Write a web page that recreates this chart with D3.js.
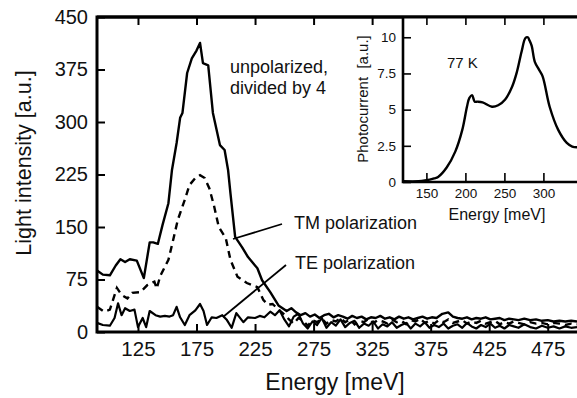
<!DOCTYPE html>
<html>
<head>
<meta charset="utf-8">
<script src="https://cdn.jsdelivr.net/npm/d3@7"></script>
<style>
  body { margin: 0; background: #fff; }
  svg { display: block; font-family: "Liberation Sans", Arial, sans-serif; }
  .axis path, .axis line { stroke: #000; }
</style>
</head>
<body>
<svg id="chart" width="577" height="398"></svg>
<script>
// main spectrum: [energy meV, intensity a.u.]
const unpolarized = [
  [90, 88], [95, 82], [101, 81], [106, 95], [110, 104], [114, 100], [118, 104], [124, 102],
  [130, 77], [135, 128], [138, 128], [142, 126], [146, 153], [151, 184], [154, 231], [158, 270],
  [161, 306], [163, 313], [167, 370], [171, 391], [175, 402], [178, 413], [180.5, 384], [185, 381],
  [189, 313], [195, 267], [199, 260], [202, 231], [204, 198], [208, 136], [214, 121], [219, 107],
  [227, 91], [231, 74], [238, 57], [245, 38], [252, 30], [256, 34], [260, 28], [264, 24],
  [268, 27], [272, 22], [276, 25], [280, 20], [284, 24], [288, 26], [292, 21], [296, 24],
  [300, 22], [304, 19], [308, 23], [312, 20], [316, 22], [320, 18], [324, 21], [328, 20],
  [332, 23], [336, 19], [340, 21], [344, 18], [348, 22], [352, 19], [356, 21], [360, 18],
  [364, 20], [368, 22], [372, 19], [376, 21], [380, 20], [385, 26], [390, 28], [394, 22],
  [398, 20], [402, 19], [406, 21], [410, 18], [414, 20], [418, 19], [422, 21], [426, 18],
  [430, 19], [434, 20], [438, 17], [442, 19], [446, 18], [450, 17], [455, 19], [460, 17],
  [465, 18], [470, 16], [475, 17], [480, 15], [485, 16], [490, 15], [495, 16], [500, 15]
];
const tmPol = [
  [90, 36], [96, 29], [101, 32], [107, 63], [111, 53], [116, 48], [120, 56], [127, 57],
  [133, 67], [139, 72], [141, 62], [144, 80], [151, 103], [155, 131], [159, 160], [165, 189],
  [169, 210], [174, 220], [178, 224], [182, 220], [186, 205], [190, 180], [194, 150], [200, 134],
  [204, 103], [210, 79], [218, 70], [227, 64], [232, 46], [236, 39], [240, 40], [245, 32],
  [250, 25], [254, 18], [258, 12], [262, 20], [266, 16], [270, 9], [274, 17], [278, 14],
  [282, 19], [286, 12], [290, 17], [294, 15], [298, 20], [302, 14], [306, 18], [310, 11],
  [314, 16], [318, 14], [322, 19], [326, 13], [330, 17], [334, 15], [338, 12], [342, 18],
  [346, 14], [350, 16], [354, 11], [358, 17], [362, 15], [366, 19], [370, 13], [374, 16],
  [378, 12], [382, 17], [386, 14], [390, 18], [394, 13], [398, 15], [402, 17], [406, 12],
  [410, 15], [414, 13], [418, 16], [422, 12], [426, 14], [430, 16], [434, 11], [438, 14],
  [442, 12], [446, 15], [450, 13], [455, 11], [460, 14], [465, 12], [470, 13], [475, 11],
  [480, 13], [485, 12], [490, 10], [495, 12], [500, 11]
];
const tePol = [
  [90, 13], [95, 10], [101, 9], [105, 20], [108, 41], [111, 24], [114, 34], [118, 30],
  [122, 32], [125, 7], [129, 20], [132, 7], [135, 30], [140, 24], [144, 22], [148, 23],
  [152, 22], [155, 24], [158, 36], [161, 21], [165, 10], [169, 24], [174, 31], [178, 40],
  [181, 30], [184, 10], [188, 21], [192, 20], [197, 24], [201, 17], [205, 6], [209, 27],
  [215, 14], [219, 21], [225, 20], [229, 23], [233, 21], [238, 29], [242, 24], [246, 31],
  [250, 18], [254, 8], [258, 22], [262, 26], [266, 12], [270, 5], [274, 15], [278, 10],
  [282, 20], [286, 6], [290, 14], [294, 9], [298, 18], [302, 7], [306, 13], [310, 16],
  [314, 6], [318, 12], [322, 9], [326, 15], [330, 5], [334, 11], [338, 8], [342, 14],
  [346, 6], [350, 10], [354, 13], [358, 5], [362, 12], [366, 8], [370, 14], [374, 6],
  [378, 10], [382, 7], [386, 12], [390, 5], [394, 9], [398, 11], [402, 6], [406, 13],
  [410, 8], [414, 5], [418, 10], [422, 7], [426, 12], [430, 6], [434, 9], [438, 5],
  [442, 10], [446, 8], [450, 6], [455, 11], [460, 7], [465, 5], [470, 9], [475, 6],
  [480, 8], [485, 5], [490, 8], [495, 6], [500, 7]
];
// inset photocurrent at 77 K
const photocurrent = [
  [120, 0.05], [140, 0.05], [148, 0.1], [160, 0.25], [165, 0.35], [176, 1.0], [187, 2.1],
  [196, 3.6], [202, 5.2], [205, 5.8], [208.5, 6.0], [212, 5.55], [216, 5.55], [222, 5.5],
  [234, 5.2], [242, 5.3], [251, 5.7], [260, 6.6], [266, 7.6], [272, 9.0], [277, 9.95],
  [280, 10.0], [282, 9.8], [285, 9.4], [289, 8.3], [294, 7.8], [299, 7.3], [308, 5.2],
  [319, 3.6], [330, 2.7], [337, 2.45], [345, 2.4]
];
const xTicks = [125, 175, 225, 275, 325, 375, 425, 475];
const yTicks = [0, 75, 150, 225, 300, 375, 450];
const insetXTicks = [150, 200, 250, 300];
const insetYTicks = [0, 2.5, 5, 7.5, 10];

const svg = d3.select("#chart");
const ink = "#111";

// ---- main plot ----
const x = d3.scaleLinear().domain([90, 500]).range([97, 577]);
const y = d3.scaleLinear().domain([0, 450]).range([332, 17]);

const line = d3.line().x(d => x(d[0])).y(d => y(d[1]));

function minor(from, to, step) {
    let res = [];
    for (let v = from; v <= to + 1e-9; v += step) res.push(v);
    return res;
}

svg.append("path").datum(tePol)
    .attr("fill", "none").attr("stroke", "#000").attr("stroke-width", 2.2)
    .attr("stroke-linejoin", "round").attr("d", line);
svg.append("path").datum(tmPol)
    .attr("fill", "none").attr("stroke", "#000").attr("stroke-width", 2.4)
    .attr("stroke-dasharray", "7,5").attr("d", line);
svg.append("path").datum(unpolarized)
    .attr("fill", "none").attr("stroke", "#000").attr("stroke-width", 2.4)
    .attr("stroke-linejoin", "round").attr("d", line);

// axes, ticks inward
const gx = svg.append("g").attr("class", "axis").attr("transform", "translate(0,332)");
gx.call(d3.axisBottom(x).tickValues(minor(100, 500, 12.5)).tickSize(-4).tickFormat(""));
gx.call(d3.axisBottom(x).tickValues(xTicks).tickSize(-8).tickPadding(9));
gx.selectAll(".domain").remove();
gx.selectAll("line").attr("stroke-width", 2);
gx.selectAll("text").attr("font-size", 20.5).attr("font-family", "Liberation Sans, Arial").attr("fill", ink);

const gt = svg.append("g").attr("class", "axis").attr("transform", "translate(0,17)");
gt.call(d3.axisTop(x).tickValues(minor(100, 500, 12.5)).tickSize(-4).tickFormat(""));
gt.call(d3.axisTop(x).tickValues(xTicks).tickSize(-8).tickFormat(""));
gt.selectAll(".domain").remove();
gt.selectAll("line").attr("stroke-width", 2);

const gy = svg.append("g").attr("class", "axis").attr("transform", "translate(97,0)");
gy.call(d3.axisLeft(y).tickValues(minor(0, 450, 18.75)).tickSize(-4).tickFormat(""));
gy.call(d3.axisLeft(y).tickValues(yTicks).tickSize(-8).tickPadding(9));
gy.selectAll(".domain").remove();
gy.selectAll("line").attr("stroke-width", 2);
gy.selectAll("text").attr("font-size", 20).attr("font-family", "Liberation Sans, Arial").attr("fill", ink);

// frame
svg.append("path")
    .attr("d", `M577,17H97V332H577`)
    .attr("fill", "none").attr("stroke", "#000").attr("stroke-width", 3);

svg.append("text").attr("x", 335).attr("y", 390).attr("text-anchor", "middle")
    .attr("font-size", 23).attr("fill", ink).text("Energy [meV]");
svg.append("text").attr("transform", "translate(31,163) rotate(-90)").attr("text-anchor", "middle")
    .attr("font-size", 21.5).attr("fill", ink).text("Light intensity [a.u.]");

svg.append("text").attr("x", 230).attr("y", 73).attr("font-size", 18).attr("fill", ink).text("unpolarized,");
svg.append("text").attr("x", 230).attr("y", 94).attr("font-size", 18).attr("fill", ink).text("divided by 4");
svg.append("text").attr("x", 294).attr("y", 229).attr("font-size", 18).attr("fill", ink).text("TM polarization");
svg.append("text").attr("x", 295).attr("y", 269).attr("font-size", 18).attr("fill", ink).text("TE polarization");

// pointer lines
svg.append("line").attr("x1", 233).attr("y1", 239).attr("x2", 282).attr("y2", 224)
    .attr("stroke", "#000").attr("stroke-width", 1.8);
svg.append("line").attr("x1", 223).attr("y1", 317).attr("x2", 286).attr("y2", 265)
    .attr("stroke", "#000").attr("stroke-width", 1.8);

// ---- inset ----
const ix = d3.scaleLinear().domain([120, 350]).range([403, 582.4]);
const iy = d3.scaleLinear().domain([0, 11.4]).range([182, 17]);

svg.append("rect").attr("x", 403).attr("y", 17).attr("width", 180).attr("height", 165).attr("fill", "#fff");

const iline = d3.line().x(d => ix(d[0])).y(d => iy(d[1])).curve(d3.curveCatmullRom);
svg.append("path").datum(photocurrent)
    .attr("fill", "none").attr("stroke", "#000").attr("stroke-width", 2.4).attr("d", iline);

const ibx = svg.append("g").attr("class", "axis").attr("transform", "translate(0,182)");
ibx.call(d3.axisBottom(ix).tickValues(minor(130, 350, 10)).tickSize(-4).tickFormat(""));
ibx.call(d3.axisBottom(ix).tickValues(insetXTicks).tickSize(-9).tickPadding(6));
ibx.selectAll(".domain").remove();
ibx.selectAll("line").attr("stroke-width", 1.6);
ibx.selectAll("text").attr("font-size", 13.5).attr("font-family", "Liberation Sans, Arial").attr("fill", ink);

const itx = svg.append("g").attr("class", "axis").attr("transform", "translate(0,17)");
itx.call(d3.axisTop(ix).tickValues(minor(130, 350, 10)).tickSize(-4).tickFormat(""));
itx.call(d3.axisTop(ix).tickValues(insetXTicks).tickSize(-8).tickFormat(""));
itx.selectAll(".domain").remove();
itx.selectAll("line").attr("stroke-width", 1.6);

const iyax = svg.append("g").attr("class", "axis").attr("transform", "translate(403,0)");
iyax.call(d3.axisLeft(iy).tickValues(minor(0, 11, 0.5)).tickSize(-4).tickFormat(""));
iyax.call(d3.axisLeft(iy).tickValues(insetYTicks).tickSize(-8).tickPadding(7).tickFormat(d3.format("")));
iyax.selectAll(".domain").remove();
iyax.selectAll("line").attr("stroke-width", 1.6);
iyax.selectAll("text").attr("font-size", 13.5).attr("font-family", "Liberation Sans, Arial").attr("fill", ink);

svg.append("path")
    .attr("d", `M403,17V182H577`)
    .attr("fill", "none").attr("stroke", "#000").attr("stroke-width", 2.6);
svg.append("line").attr("x1", 97).attr("x2", 577).attr("y1", 17).attr("y2", 17)
    .attr("stroke", "#000").attr("stroke-width", 3);

svg.append("text").attr("x", 497).attr("y", 220).attr("text-anchor", "middle")
    .attr("font-size", 16).attr("fill", ink).text("Energy [meV]");
svg.append("text").attr("transform", "translate(368,99) rotate(-90)").attr("text-anchor", "middle")
    .attr("font-size", 15).attr("fill", ink).attr("xml:space", "preserve").text("Photocurrent  [a.u.]");
svg.append("text").attr("x", 447).attr("y", 68).attr("font-size", 15).attr("fill", ink).text("77 K");
</script>
</body>
</html>
